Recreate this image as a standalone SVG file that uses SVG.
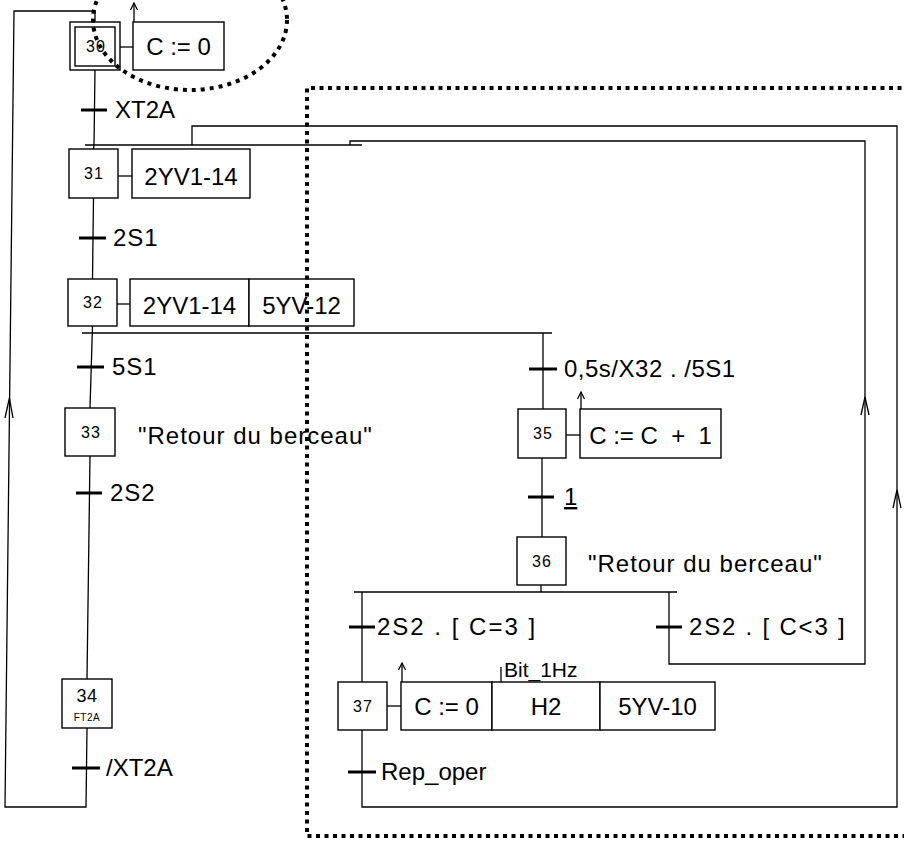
<svg xmlns="http://www.w3.org/2000/svg" width="904" height="841" viewBox="0 0 904 841">
<defs>
<marker id="ah" viewBox="-8 -5 9 10" refX="0" refY="0" markerWidth="9" markerHeight="10" markerUnits="userSpaceOnUse" orient="auto">
<path d="M-7,-3.5 L0,0 L-7,3.5" fill="none" stroke="#000" stroke-width="1.2"/>
</marker>
<style>
.bx{fill:#fff;stroke:#000;stroke-width:1.4}
.ln{fill:none;stroke:#000;stroke-width:1.3}
.bar{stroke:#000;stroke-width:3}
.t{font-family:"Liberation Sans",Arial,sans-serif;font-size:24px;fill:#000}
.n{font-family:"Liberation Sans",Arial,sans-serif;font-size:16px;fill:#000;text-anchor:middle;letter-spacing:1px}
.c{text-anchor:middle}
.dot{fill:none;stroke:#000;stroke-width:4;stroke-dasharray:4 5}
</style>
</defs>
<rect width="904" height="841" fill="#fff"/>

<g id="connectors">
<!-- main left column -->
<polyline class="ln" points="95,70 94,145 93.5,149"/>
<line class="ln" x1="93.5" y1="198" x2="92.5" y2="279"/>
<line class="ln" x1="92.5" y1="326" x2="90" y2="408"/>
<line class="ln" x1="90" y1="456" x2="87" y2="679"/>
<polyline class="ln" points="87,728 86,807 5,807 14,11 95,11 95,22"/>
<polyline class="ln" points="5,418 9.4,398 13,418"/>
<!-- convergence above 31 -->
<line class="ln" x1="85" y1="145" x2="362" y2="145"/>
<!-- divergence after 32 -->
<line class="ln" x1="82" y1="333" x2="552" y2="333"/>
<line class="ln" x1="543" y1="333" x2="543" y2="409"/>
<line class="ln" x1="542" y1="458" x2="542" y2="537"/>
<line class="ln" x1="541" y1="585" x2="541" y2="592"/>
<!-- divergence after 36 -->
<line class="ln" x1="354" y1="592" x2="677" y2="592"/>
<line class="ln" x1="362" y1="592" x2="362" y2="682"/>
<!-- inner loop -->
<polyline class="ln" points="669,592 669,664 865,664 865,141 350,141 350,145"/>
<polyline class="ln" points="861,415 865,397 869,415"/>
<!-- outer loop -->
<polyline class="ln" points="362,730 362,807 897,807 897,126 192,126 192,145"/>
<polyline class="ln" points="893,508 897,490 901,508"/>
<!-- action links -->
<line class="ln" x1="120" y1="47" x2="133" y2="47"/>
<line class="ln" x1="118" y1="176" x2="132" y2="176"/>
<line class="ln" x1="117" y1="304" x2="130" y2="304"/>
<line class="ln" x1="566" y1="435" x2="580" y2="435"/>
<line class="ln" x1="387" y1="706" x2="401" y2="706"/>
<!-- action arrows -->
<line class="ln" x1="134" y1="22" x2="134" y2="3" marker-end="url(#ah)"/>
<line class="ln" x1="581" y1="409" x2="581" y2="392" marker-end="url(#ah)"/>
<line class="ln" x1="402" y1="682" x2="402" y2="663" marker-end="url(#ah)"/>
<line class="ln" x1="501" y1="667" x2="501" y2="682"/>
</g>

<g id="transitions">
<line class="bar" x1="81" y1="110" x2="107" y2="110"/>
<text class="t" x="115" y="118">XT2A</text>
<line class="bar" x1="79" y1="238" x2="106" y2="238"/>
<text class="t" x="113" y="246" letter-spacing="1">2S1</text>
<line class="bar" x1="77" y1="367" x2="104" y2="367"/>
<text class="t" x="112" y="375" letter-spacing="1">5S1</text>
<line class="bar" x1="76" y1="493" x2="102" y2="493"/>
<text class="t" x="110" y="501" letter-spacing="1">2S2</text>
<line class="bar" x1="72" y1="768" x2="100" y2="768"/>
<text class="t" x="106" y="776">/XT2A</text>
<line class="bar" x1="529" y1="369" x2="557" y2="369"/>
<text class="t" x="564" y="377" letter-spacing="0.5">0,5s/X32 . /5S1</text>
<line class="bar" x1="528" y1="497" x2="554" y2="497"/>
<text class="t" x="564" y="505" text-decoration="underline">1</text>
<line class="bar" x1="349" y1="627" x2="375" y2="627"/>
<text class="t" x="377" y="635" letter-spacing="2">2S2 . [ C=3 ]</text>
<line class="bar" x1="656" y1="627" x2="682" y2="627"/>
<text class="t" x="689" y="635" letter-spacing="1.8">2S2 . [ C&lt;3 ]</text>
<line class="bar" x1="348" y1="772" x2="376" y2="772"/>
<text class="t" x="381" y="780">Rep_oper</text>
</g>

<g id="step30">
<rect class="bx" x="70" y="22" width="50" height="48"/>
<rect class="bx" x="75" y="27" width="40" height="39"/>
<text class="n" x="96" y="52">30</text>
<rect class="bx" x="133" y="22" width="91" height="48"/>
<text class="t c" x="178.5" y="55">C := 0</text>
</g>

<g id="step31">
<rect class="bx" x="69" y="149" width="49" height="49"/>
<text class="n" x="94" y="179">31</text>
<rect class="bx" x="132" y="149" width="118" height="49"/>
<text class="t c" x="191" y="185">2YV1-14</text>
</g>

<g id="step32">
<rect class="bx" x="68" y="279" width="49" height="47"/>
<text class="n" x="93" y="308">32</text>
<rect class="bx" x="130" y="279" width="119" height="47"/>
<text class="t c" x="189.5" y="314">2YV1-14</text>
<rect class="bx" x="249" y="279" width="105" height="47"/>
<text class="t c" x="301.5" y="314">5YV-12</text>
</g>

<g id="step33">
<rect class="bx" x="65" y="408" width="50" height="48"/>
<text class="n" x="91" y="438">33</text>
<text class="t" x="138" y="444" letter-spacing="1">"Retour du berceau"</text>
</g>

<g id="step34">
<rect class="bx" x="62" y="679" width="50" height="49"/>
<text class="n" x="87" y="702" style="font-size:18px;letter-spacing:0.5px">34</text>
<text class="n" x="87" y="721" style="font-size:10px;letter-spacing:0.5px">FT2A</text>
</g>

<g id="step35">
<rect class="bx" x="518" y="409" width="48" height="49"/>
<text class="n" x="543" y="439">35</text>
<rect class="bx" x="580" y="409" width="141" height="49"/>
<text class="t c" x="650.5" y="444" xml:space="preserve">C := C  +  1</text>
</g>

<g id="step36">
<rect class="bx" x="517" y="537" width="49" height="48"/>
<text class="n" x="542" y="567">36</text>
<text class="t" x="588" y="572" letter-spacing="1">"Retour du berceau"</text>
</g>

<g id="step37">
<rect class="bx" x="338" y="682" width="49" height="48"/>
<text class="n" x="363" y="712">37</text>
<rect class="bx" x="401" y="682" width="91" height="48"/>
<text class="t c" x="446.5" y="715">C := 0</text>
<rect class="bx" x="492" y="682" width="108" height="48"/>
<text class="t c" x="546" y="715">H2</text>
<rect class="bx" x="600" y="682" width="115" height="48"/>
<text class="t c" x="657.5" y="715">5YV-10</text>
<text class="t" x="504" y="677" style="font-size:21px">Bit_1Hz</text>
</g>

<g id="highlights">
<ellipse class="dot" cx="190" cy="20" rx="97" ry="70"/>
<polyline class="dot" points="910,88 307,88 307,836 910,836" style="stroke-dasharray:4 4.5"/>
</g>
</svg>
